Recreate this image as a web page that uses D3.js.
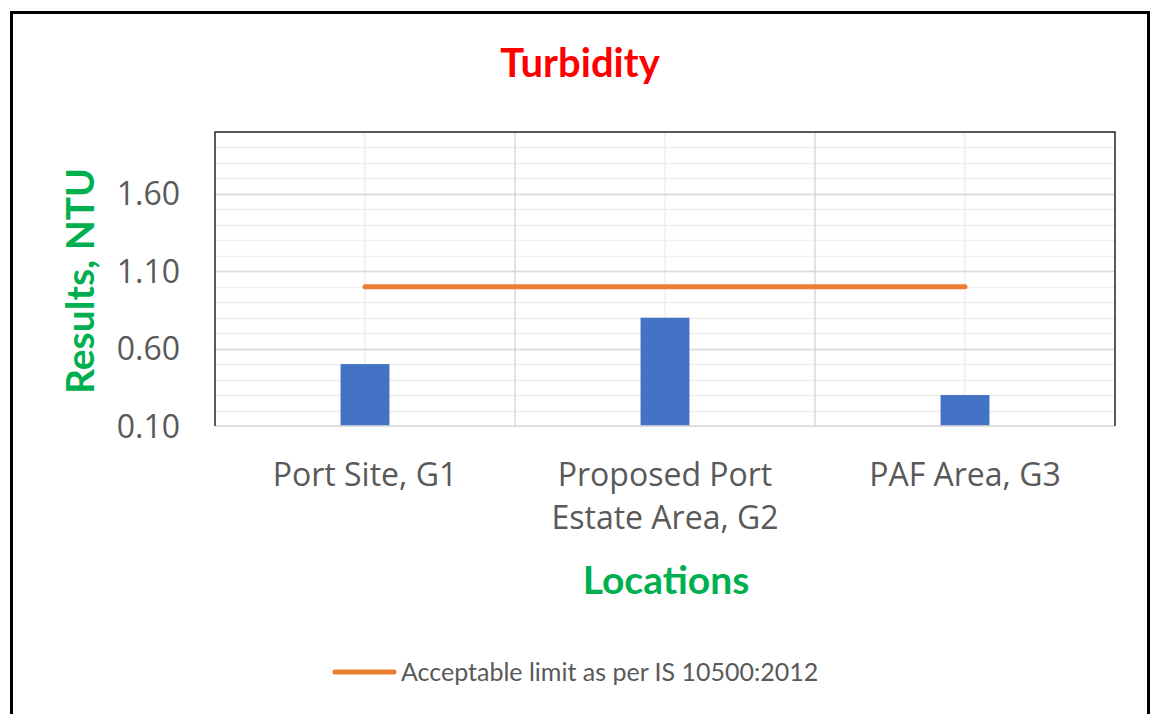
<!DOCTYPE html>
<html>
<head>
<meta charset="utf-8">
<script src="https://cdn.jsdelivr.net/npm/d3@7"></script>
<style>
  html, body { margin: 0; padding: 0; background: #fff; }
  svg { display: block; }
</style>
</head>
<body>
<svg id="chart"></svg>
<script>
// data
const categories = ['Port Site, G1', 'Proposed Port Estate Area, G2', 'PAF Area, G3'];
const results = [0.5, 0.8, 0.3];
const limitValues = [1.0, 1.0, 1.0];
const yTicks = [0.1, 0.6, 1.1, 1.6];
const yMinorStep = 0.1;
const yDomain = [0.1, 2.0];

const width = 1157;
const height = 714;
const plot = { left: 215, right: 1115, top: 132, bottom: 426 };

const svg = d3.select('#chart')
  .attr('width', width)
  .attr('height', height);

// outer frame (bottom edge runs off the picture)
svg.append('rect')
  .attr('x', 11.5).attr('y', 12.5)
  .attr('width', 1137).attr('height', 720)
  .attr('fill', '#fff')
  .attr('stroke', '#000')
  .attr('stroke-width', 3);

const x = d3.scaleBand()
  .domain(categories)
  .range([plot.left, plot.right])
  .padding(0);

const y = d3.scaleLinear()
  .domain(yDomain)
  .range([plot.bottom, plot.top]);

// minor horizontal grid
const minor = d3.range(yDomain[0], yDomain[1] + 1e-9, yMinorStep);
svg.append('g')
  .selectAll('line')
  .data(minor)
  .enter().append('line')
  .attr('x1', plot.left).attr('x2', plot.right)
  .attr('y1', d => Math.round(y(d)) + 0.5)
  .attr('y2', d => Math.round(y(d)) + 0.5)
  .attr('stroke', '#efefef')
  .attr('stroke-width', 1.5);

// vertical grid: category centers (light) and boundaries (darker)
svg.append('g')
  .selectAll('line')
  .data(categories)
  .enter().append('line')
  .attr('x1', d => x(d) + x.bandwidth() / 2)
  .attr('x2', d => x(d) + x.bandwidth() / 2)
  .attr('y1', plot.top).attr('y2', plot.bottom)
  .attr('stroke', '#efefef')
  .attr('stroke-width', 1.5);

svg.append('g')
  .selectAll('line')
  .data(categories.slice(1))
  .enter().append('line')
  .attr('x1', d => x(d))
  .attr('x2', d => x(d))
  .attr('y1', plot.top).attr('y2', plot.bottom)
  .attr('stroke', '#d9d9d9')
  .attr('stroke-width', 1.5);

// major horizontal grid
svg.append('g')
  .selectAll('line')
  .data(yTicks.slice(1))
  .enter().append('line')
  .attr('x1', plot.left).attr('x2', plot.right)
  .attr('y1', d => Math.round(y(d)) + 0.5)
  .attr('y2', d => Math.round(y(d)) + 0.5)
  .attr('stroke', '#d9d9d9')
  .attr('stroke-width', 1.5);

// bars
const barW = x.bandwidth() * 0.163;
svg.append('g')
  .selectAll('rect')
  .data(results)
  .enter().append('rect')
  .attr('x', (d, i) => x(categories[i]) + x.bandwidth() / 2 - barW / 2)
  .attr('y', d => y(d))
  .attr('width', barW)
  .attr('height', d => y(yDomain[0]) - y(d))
  .attr('fill', '#4472c4');

// bottom axis line (light)
svg.append('line')
  .attr('x1', plot.left).attr('x2', plot.right)
  .attr('y1', plot.bottom).attr('y2', plot.bottom)
  .attr('stroke', '#d9d9d9')
  .attr('stroke-width', 1.5);

// plot border, top/left/right
svg.append('path')
  .attr('d', `M${plot.left},${plot.bottom}V${plot.top}H${plot.right}V${plot.bottom}`)
  .attr('fill', 'none')
  .attr('stroke', '#262626')
  .attr('stroke-width', 1.5);

// acceptable limit line
const line = d3.line()
  .x((d, i) => x(categories[i]) + x.bandwidth() / 2)
  .y(d => y(d));

svg.append('path')
  .datum(limitValues)
  .attr('d', line)
  .attr('fill', 'none')
  .attr('stroke', '#ed7d31')
  .attr('stroke-width', 5)
  .attr('stroke-linecap', 'round');

// y tick labels
svg.append('g')
  .selectAll('text')
  .data(yTicks)
  .enter().append('text')
  .attr('x', plot.left - 35)
  .attr('y', d => y(d))
  .attr('dy', '0.36em')
  .attr('text-anchor', 'end')
  .attr('font-family', '"Open Sans", sans-serif')
  .attr('font-size', 32)
  .attr('fill', '#595959')
  .text(d3.format('.2f'));

// category labels, wrapped
const catG = svg.append('g')
  .attr('font-family', '"Open Sans", sans-serif')
  .attr('font-size', 32)
  .attr('fill', '#595959')
  .attr('text-anchor', 'middle');

categories.forEach(c => {
  const cx = x(c) + x.bandwidth() / 2;
  const t = catG.append('text')
    .attr('x', cx)
    .attr('y', 486);
  const words = c.split(' ');
  let lineWords = [];
  let tspan = t.append('tspan').attr('x', cx).attr('dy', 0);
  words.forEach(w => {
    lineWords.push(w);
    tspan.text(lineWords.join(' '));
    if (tspan.node().getComputedTextLength() > 260 && lineWords.length > 1) {
      lineWords.pop();
      tspan.text(lineWords.join(' '));
      lineWords = [w];
      tspan = t.append('tspan')
        .attr('x', cx)
        .attr('dy', 43)
        .text(w);
    }
  });
});

// title
svg.append('text')
  .attr('x', 580)
  .attr('y', 77)
  .attr('text-anchor', 'middle')
  .attr('font-family', 'Lato, sans-serif')
  .attr('font-weight', 'bold')
  .attr('font-size', 40)
  .attr('fill', '#ff0000')
  .text('Turbidity');

// axis titles
svg.append('text')
  .attr('x', 666)
  .attr('y', 594)
  .attr('text-anchor', 'middle')
  .attr('font-family', 'Lato, sans-serif')
  .attr('font-weight', 'bold')
  .attr('font-size', 39)
  .attr('fill', '#00b050')
  .text('Locations');

svg.append('text')
  .attr('transform', 'translate(94,281) rotate(-90)')
  .attr('text-anchor', 'middle')
  .attr('font-family', 'Lato, sans-serif')
  .attr('font-weight', 'bold')
  .attr('font-size', 39)
  .attr('fill', '#00b050')
  .text('Results, NTU');

// legend
const legend = svg.append('g');
legend.append('line')
  .attr('x1', 335).attr('x2', 394)
  .attr('y1', 672).attr('y2', 672)
  .attr('stroke', '#ed7d31')
  .attr('stroke-width', 5)
  .attr('stroke-linecap', 'round');
legend.append('text')
  .attr('x', 401)
  .attr('y', 681)
  .attr('font-family', 'Lato, sans-serif')
  .attr('font-size', 25)
  .attr('fill', '#595959')
  .text('Acceptable limit as per IS 10500:2012');
</script>
</body>
</html>
